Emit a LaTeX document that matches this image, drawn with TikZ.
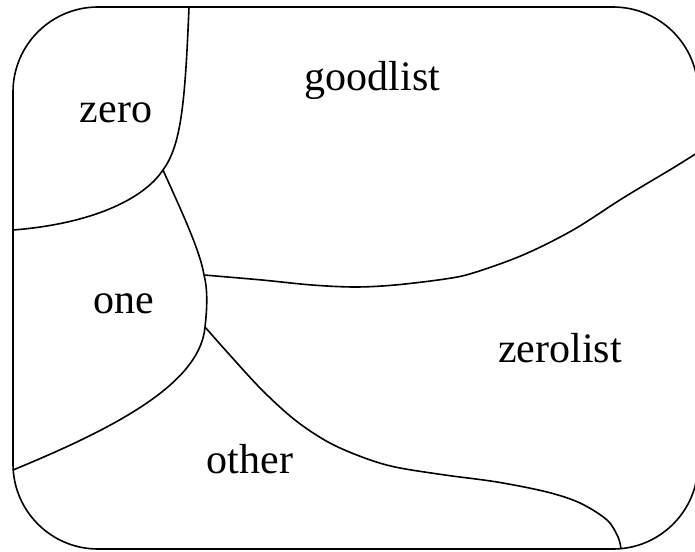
\documentclass[tikz,border=0pt]{standalone}
\usepackage{fontspec}
\setmainfont{Liberation Serif}
\begin{document}
\begin{tikzpicture}[x=1pt,y=-1pt,
  border/.style={line width=1.6pt, rounded corners=85pt},
  divider/.style={line width=1.6pt},
  regionlabel/.style={anchor=base, inner sep=0pt, font=\fontsize{42}{50}\selectfont}]
\useasboundingbox (0,0) rectangle (695,551);
% outer frame (right edge lies just outside the picture)
\draw[border] (13,7) rectangle (698,549);
% junction coordinates
\coordinate (T1) at (189,7);
\coordinate (J1) at (163,170);
\coordinate (L1) at (13,230);
\coordinate (J2) at (204,275);
\coordinate (J3) at (205,327);
\coordinate (L2) at (13,470);
\coordinate (R1) at (697,153);
\coordinate (B1) at (621,549);
% zero boundary
\draw[divider] (T1) .. controls (185,105) and (181,145) .. (J1)
               .. controls (143,200) and (90,224) .. (L1);
% one boundary
\draw[divider] (J1) .. controls (180,208) and (200,250) .. (J2)
               .. controls (208,290) and (207,310) .. (J3)
               .. controls (200,385) and (110,430) .. (L2);
% goodlist / zerolist
\draw[divider] plot[smooth, tension=0.55] coordinates {(204,275) (262,280) (312,285) (355,287) (395,285) (445,279) (473,273) (523,255) (573,230) (623,198) (673,168) (697,153)};
% other / zerolist
\draw[divider] plot[smooth, tension=0.55] coordinates {(205,327) (228,353) (262,390) (295,420) (328,442) (362,457) (395,467) (445,475) (497,482) (547,492) (580,503) (607,520) (618,537) (621,549)};
% labels
\node[regionlabel] (zero) at (116,122) {zero};
\node[regionlabel] (goodlist) at (372.5,90) {goodlist};
\node[regionlabel] (one) at (124,313) {one};
\node[regionlabel] (zerolist) at (560,362) {zerolist};
\node[regionlabel] (other) at (250,473) {other};
\end{tikzpicture}
\end{document}
